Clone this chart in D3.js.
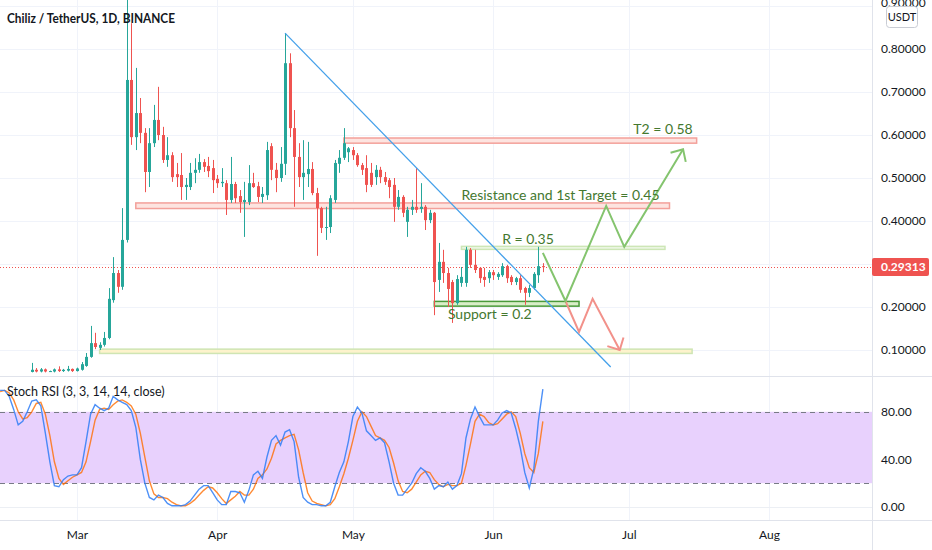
<!DOCTYPE html>
<html>
<head>
<meta charset="utf-8">
<script src="https://cdn.jsdelivr.net/npm/d3@7/dist/d3.min.js"></script>
<style>
  body { margin: 0; background: #fff; }
  svg { display: block; }
</style>
</head>
<body>
<div id="chart"></div>
<script>
// ---- data ----
var firstCandle = "2021-02-19";
var opens  = [0.049,0.054,0.050,0.055,0.050,0.050,0.055,0.051,0.052,0.056,
  0.051,0.054,0.063,0.084,0.116,0.105,0.112,0.128,0.216,0.279,0.247,0.356,0.728,0.595,0.651,0.605,0.514,0.581,0.635,0.600,0.542,0.553,0.509,0.507,0.479,0.479,0.512,0.519,0.537,0.528,0.523,
  0.498,0.488,0.488,0.449,0.486,0.458,0.444,0.444,0.488,0.481,0.456,0.460,0.574,0.519,0.500,0.533,0.767,0.616,0.549,0.502,0.509,0.521,0.465,0.430,0.384,0.386,0.449,0.533,0.547,0.560,
  0.565,0.553,0.530,0.523,0.512,0.502,0.519,0.502,0.495,0.484,0.433,0.456,0.398,0.426,0.433,0.428,0.433,0.402,0.419,0.263,0.305,0.279,0.258,0.209,0.256,0.256,0.333,0.298,0.291,0.270,0.267,
  0.281,0.270,0.274,0.295,0.270,0.258,0.267,0.244,0.233,0.244,0.274,0.295];
var highs  = [0.070,0.058,0.058,0.057,0.052,0.057,0.062,0.056,0.063,0.057,
  0.059,0.072,0.093,0.156,0.140,0.118,0.142,0.244,0.316,0.286,0.430,0.950,0.860,0.756,0.686,0.616,0.616,0.670,0.712,0.619,0.595,0.560,0.535,0.558,0.500,0.535,0.546,0.556,0.544,0.549,0.542,
  0.507,0.523,0.495,0.549,0.491,0.472,0.491,0.530,0.512,0.491,0.479,0.584,0.581,0.535,0.572,0.837,0.790,0.658,0.581,0.588,0.584,0.537,0.477,0.433,0.433,0.460,0.542,0.565,0.616,0.572,
  0.572,0.558,0.535,0.553,0.535,0.530,0.526,0.514,0.500,0.500,0.472,0.460,0.433,0.449,0.523,0.488,0.437,0.426,0.421,0.349,0.333,0.291,0.263,0.274,0.293,0.340,0.337,0.333,0.293,0.291,0.286,
  0.286,0.281,0.302,0.298,0.274,0.270,0.274,0.247,0.251,0.281,0.340,0.302];
var lows   = [0.048,0.048,0.048,0.048,0.049,0.048,0.049,0.049,0.050,0.049,
  0.050,0.052,0.061,0.082,0.102,0.100,0.108,0.125,0.210,0.233,0.240,0.350,0.577,0.565,0.581,0.467,0.479,0.572,0.588,0.535,0.526,0.491,0.479,0.449,0.449,0.472,0.488,0.512,0.514,0.502,0.465,
  0.477,0.479,0.414,0.442,0.442,0.419,0.363,0.437,0.477,0.444,0.442,0.449,0.495,0.467,0.491,0.507,0.595,0.433,0.479,0.449,0.479,0.460,0.319,0.372,0.356,0.372,0.442,0.512,0.542,0.537,
  0.542,0.526,0.507,0.467,0.479,0.484,0.488,0.484,0.453,0.398,0.426,0.409,0.363,0.414,0.419,0.419,0.379,0.395,0.181,0.235,0.256,0.200,0.163,0.205,0.247,0.247,0.291,0.279,0.256,0.247,0.256,
  0.263,0.263,0.270,0.256,0.251,0.251,0.233,0.205,0.223,0.240,0.256,0.281];
var closes = [0.054,0.050,0.055,0.050,0.051,0.055,0.051,0.054,0.056,0.051,
  0.057,0.067,0.084,0.116,0.107,0.112,0.128,0.219,0.279,0.247,0.356,0.728,0.595,0.651,0.605,0.514,0.581,0.635,0.600,0.542,0.553,0.502,0.502,0.479,0.484,0.512,0.519,0.537,0.526,0.516,0.495,
  0.488,0.491,0.449,0.486,0.453,0.444,0.449,0.488,0.479,0.456,0.463,0.565,0.519,0.500,0.533,0.767,0.616,0.549,0.502,0.512,0.521,0.465,0.430,0.384,0.386,0.453,0.535,0.547,0.581,0.569,
  0.553,0.530,0.519,0.484,0.484,0.519,0.502,0.491,0.479,0.433,0.456,0.419,0.426,0.433,0.426,0.433,0.402,0.419,0.258,0.305,0.279,0.242,0.209,0.265,0.270,0.333,0.298,0.286,0.267,0.263,0.281,
  0.274,0.277,0.295,0.267,0.258,0.267,0.240,0.233,0.244,0.277,0.295,0.29313];

var firstStoch = "2021-02-12";
var stochK = [98,98,93,82,69,72,80,89,90,85,62,38,18,17,23,26,27,
  27,33,55,78,86,83,81,83,93,90,88,86,81,67,40,20,8,6,10,8,3,1,1,1,2,5,10,15,18,18,12,
  6,2,2,13,13,12,4,14,27,30,24,42,56,60,52,63,65,55,25,8,4,2,2,1,1,4,17,29,38,55,
  76,84,79,64,60,56,58,54,38,20,10,10,15,20,28,33,30,24,15,18,17,21,15,18,28,58,74,84,76,69,69,
  69,73,79,81,79,66,50,29,16,32,72,99];
var stochD = [97,98,96,90,80,74,75,80,87,88,78,60,38,24,19,22,25,
  27,29,38,55,73,82,83,82,86,89,90,88,85,78,62,42,22,11,8,8,7,4,2,1,1,3,6,10,14,17,16,
  12,7,3,6,9,13,10,10,15,24,27,32,41,53,56,58,60,61,48,29,12,5,3,2,1,2,7,17,28,41,
  56,72,80,76,68,60,58,56,50,37,22,13,12,15,21,27,30,29,23,19,17,19,18,18,20,35,53,72,78,76,71,
  69,70,74,78,80,76,62,45,33,29,45,72];

var priceTicks = [0.1, 0.2, 0.3, 0.4, 0.5, 0.6, 0.7, 0.8, 0.9];
var priceLabelTicks = [0.1, 0.2, 0.4, 0.5, 0.6, 0.7, 0.8];
var stochTicks = [0, 40, 80];
var monthTicks = ["2021-03-01","2021-04-01","2021-05-01","2021-06-01","2021-07-01","2021-08-01"];
var lastPrice = 0.29313;

// drawings: [start date, end date, low price, high price]
var redBands   = [["2021-03-14","2021-07-10",0.429,0.442], ["2021-04-29","2021-07-16",0.581,0.593]];
var rBand      = ["2021-05-25","2021-07-09",0.334,0.341];
var supportBand= ["2021-05-19","2021-06-20",0.202,0.213];
var bottomBand = ["2021-03-06","2021-07-15",0.092,0.102];
var trendLine  = [["2021-04-16",0.837],["2021-06-27",0.0605]];
var upPath     = [["2021-06-12",0.326],["2021-06-17",0.214],["2021-06-26",0.435],["2021-06-30",0.340],["2021-07-13",0.567]];
var downPath   = [["2021-06-17",0.214],["2021-06-20",0.142],["2021-06-23",0.219],["2021-06-29",0.100]];
var notes = [
  ["T2 = 0.58", "2021-07-02", 0.602],
  ["Resistance and 1st Target = 0.45", "2021-05-25", 0.449],
  ["R = 0.35", "2021-06-03", 0.3465],
  ["Support = 0.2", "2021-05-22", 0.172]
];

// ---- layout ----
var width = 932, height = 550;
var plotRight = 872, mainBottom = 376, stochTop = 378, axisTop = 520;
var parse = d3.utcParse("%Y-%m-%d");

var svg = d3.select("#chart").append("svg")
  .attr("width", width).attr("height", height)
  .style("font-family", "Lato, 'Liberation Sans', sans-serif");

var x = d3.scaleUtc()
  .domain([parse("2021-03-01"), parse("2021-08-01")])
  .range([77, 769]);
var y = d3.scaleLinear().domain([0, 0.9]).range([393, 6]);
var ys = d3.scaleLinear().domain([0, 100]).range([507, 388]);

var candles = opens.map(function(o, i) {
  return {date: d3.utcDay.offset(parse(firstCandle), i), o: o, h: highs[i], l: lows[i], c: closes[i]};
});
var stoch = stochK.map(function(k, i) {
  return {date: d3.utcDay.offset(parse(firstStoch), i), k: k, d: stochD[i]};
});

var defs = svg.append("defs");
defs.append("clipPath").attr("id", "clipMain")
  .append("rect").attr("x", 0).attr("y", 0).attr("width", plotRight).attr("height", mainBottom);
defs.append("clipPath").attr("id", "clipStoch")
  .append("rect").attr("x", 0).attr("y", stochTop).attr("width", plotRight).attr("height", axisTop - stochTop);

// grid
var grid = svg.append("g");
grid.selectAll(".hg").data(priceTicks).enter().append("line")
  .attr("x1", 0).attr("x2", plotRight)
  .attr("y1", function(d) { return Math.round(y(d)) + 0.5; })
  .attr("y2", function(d) { return Math.round(y(d)) + 0.5; })
  .attr("stroke", "#f0f3fa");
grid.selectAll(".vg").data(monthTicks).enter().append("line")
  .attr("y1", 0).attr("y2", axisTop)
  .attr("x1", function(d) { return Math.round(x(parse(d))) + 0.5; })
  .attr("x2", function(d) { return Math.round(x(parse(d))) + 0.5; })
  .attr("stroke", "#f0f3fa");
grid.append("line").attr("x1", 0).attr("x2", plotRight)
  .attr("y1", Math.round(ys(0)) + 0.5).attr("y2", Math.round(ys(0)) + 0.5)
  .attr("stroke", "#eceff4");

// separators
svg.append("line").attr("x1", 0).attr("x2", width).attr("y1", mainBottom + 0.5).attr("y2", mainBottom + 0.5).attr("stroke", "#e0e3eb");
svg.append("line").attr("x1", 0).attr("x2", width).attr("y1", axisTop + 0.5).attr("y2", axisTop + 0.5).attr("stroke", "#e0e3eb");
svg.append("line").attr("x1", plotRight + 0.5).attr("x2", plotRight + 0.5).attr("y1", 0).attr("y2", height).attr("stroke", "#e0e3eb");

// ---- main pane ----
var main = svg.append("g").attr("clip-path", "url(#clipMain)");

function band(g, b, stroke, fill) {
  g.append("rect")
    .attr("x", x(parse(b[0])))
    .attr("y", y(b[3]))
    .attr("width", x(parse(b[1])) - x(parse(b[0])))
    .attr("height", y(b[2]) - y(b[3]))
    .attr("fill", fill).attr("stroke", stroke).attr("stroke-width", 1.5);
}
band(main, bottomBand, "#cfe5b3", "#fdf3cc");
redBands.forEach(function(b) { band(main, b, "#f3a09a", "#fde4e0"); });
band(main, rBand, "#cde6b6", "#eef7e6");
band(main, supportBand, "#4a9a3a", "#d9eec8");

// price line
main.append("line").attr("x1", 0).attr("x2", plotRight)
  .attr("y1", Math.round(y(lastPrice)) + 0.5).attr("y2", Math.round(y(lastPrice)) + 0.5)
  .attr("stroke", "#ef5350").attr("stroke-dasharray", "1,2");

// candles
var cg = main.selectAll(".candle").data(candles).enter().append("g");
cg.append("line")
  .attr("x1", function(d) { return Math.round(x(d.date)) + 0.5; })
  .attr("x2", function(d) { return Math.round(x(d.date)) + 0.5; })
  .attr("y1", function(d) { return y(d.h); })
  .attr("y2", function(d) { return y(d.l); })
  .attr("stroke", function(d) { return d.c >= d.o ? "#26a69a" : "#ef5350"; });
cg.append("rect")
  .attr("x", function(d) { return Math.round(x(d.date)) - 1; })
  .attr("width", 3)
  .attr("y", function(d) { return y(Math.max(d.o, d.c)); })
  .attr("height", function(d) { return Math.max(1, Math.abs(y(d.o) - y(d.c))); })
  .attr("fill", function(d) { return d.c >= d.o ? "#26a69a" : "#ef5350"; });

// trend line
main.append("line")
  .attr("x1", x(parse(trendLine[0][0]))).attr("y1", y(trendLine[0][1]))
  .attr("x2", x(parse(trendLine[1][0]))).attr("y2", y(trendLine[1][1]))
  .attr("stroke", "#44a0ea").attr("stroke-width", 1.3);

// projected paths with arrow heads
var pathLine = d3.line()
  .x(function(d) { return x(parse(d[0])); })
  .y(function(d) { return y(d[1]); });

function arrow(points, color, spread) {
  main.append("path").attr("d", pathLine(points))
    .attr("fill", "none").attr("stroke", color).attr("stroke-width", 2)
    .attr("stroke-linejoin", "miter");
  var a = points[points.length - 2], b = points[points.length - 1];
  var x1 = x(parse(a[0])), y1 = y(a[1]), x2 = x(parse(b[0])), y2 = y(b[1]);
  var back = Math.atan2(y2 - y1, x2 - x1) + Math.PI;
  var len = 13;
  var head = [
    [x2 + len * Math.cos(back - spread), y2 + len * Math.sin(back - spread)],
    [x2, y2],
    [x2 + len * Math.cos(back + spread), y2 + len * Math.sin(back + spread)]
  ];
  main.append("path").attr("d", d3.line()(head))
    .attr("fill", "none").attr("stroke", color).attr("stroke-width", 2);
}
arrow(downPath, "#f2918a", 0.78);
arrow(upPath, "#84c46e", 0.75);

// notes
main.selectAll(".note").data(notes).enter().append("text")
  .attr("x", function(d) { return x(parse(d[1])); })
  .attr("y", function(d) { return y(d[2]); })
  .attr("fill", "#44782f")
  .style("font-size", "14px")
  .text(function(d) { return d[0]; });

// title
svg.append("text").attr("x", 7).attr("y", 23)
  .attr("fill", "#131722").style("font-size", "13px").style("font-weight", "bold")
  .attr("textLength", 168).attr("lengthAdjust", "spacingAndGlyphs")
  .text("Chiliz / TetherUS, 1D, BINANCE");

// price axis
var yAxis = d3.axisRight(y).tickValues(priceLabelTicks).tickFormat(d3.format(".5f")).tickSize(0).tickPadding(9);
svg.append("g").attr("transform", "translate(" + plotRight + ",0)")
  .call(yAxis)
  .call(function(g) {
    g.select(".domain").remove();
    g.selectAll("text").attr("fill", "#131722").style("font-size", "12px").style("font-family", "Lato, sans-serif");
  });

// top price label, half hidden under the currency box as in the source
svg.append("text").attr("x", 881).attr("y", 7)
  .attr("fill", "#131722").style("font-size", "12px").style("font-family", "Lato, sans-serif")
  .text(d3.format(".5f")(0.9));

// last price label
svg.append("rect").attr("x", plotRight).attr("y", y(lastPrice) - 9).attr("width", 57).attr("height", 18)
  .attr("rx", 2).attr("fill", "#ef5350");
svg.append("text").attr("x", plotRight + 9).attr("y", y(lastPrice) + 4.5)
  .attr("fill", "#fff").style("font-size", "12px").style("font-weight", "bold")
  .text(d3.format(".5f")(lastPrice));

// currency box
svg.append("rect").attr("x", 886.5).attr("y", 6.5).attr("width", 31).attr("height", 21)
  .attr("rx", 3).attr("fill", "#fff").attr("stroke", "#c9ccd4");
svg.append("text").attr("x", 902).attr("y", 21).attr("text-anchor", "middle")
  .attr("fill", "#131722").style("font-size", "11px").text("USDT");

// ---- stoch pane ----
var sp = svg.append("g").attr("clip-path", "url(#clipStoch)");
sp.append("rect").attr("x", 0).attr("width", plotRight)
  .attr("y", ys(80)).attr("height", ys(20) - ys(80))
  .attr("fill", "#e8d1fd");
[80, 20].forEach(function(v) {
  sp.append("line").attr("x1", 0).attr("x2", plotRight)
    .attr("y1", Math.round(ys(v)) + 0.5).attr("y2", Math.round(ys(v)) + 0.5)
    .attr("stroke", "#787b86").attr("stroke-dasharray", "5,4");
});
sp.append("path").datum(stoch)
  .attr("d", d3.line().x(function(d) { return x(d.date); }).y(function(d) { return ys(d.d); }))
  .attr("fill", "none").attr("stroke", "#ff6d00").attr("stroke-opacity", 0.8).attr("stroke-width", 1.4);
sp.append("path").datum(stoch)
  .attr("d", d3.line().x(function(d) { return x(d.date); }).y(function(d) { return ys(d.k); }))
  .attr("fill", "none").attr("stroke", "#2e7cf6").attr("stroke-opacity", 0.85).attr("stroke-width", 1.4);

svg.append("text").attr("x", 7).attr("y", 396)
  .attr("fill", "#131722").style("font-size", "12.5px")
  .text("Stoch RSI (3, 3, 14, 14, close)");

var sAxis = d3.axisRight(ys).tickValues(stochTicks).tickFormat(d3.format(".2f")).tickSize(0).tickPadding(9);
svg.append("g").attr("transform", "translate(" + plotRight + ",0)")
  .call(sAxis)
  .call(function(g) {
    g.select(".domain").remove();
    g.selectAll("text").attr("fill", "#131722").style("font-size", "12px").style("font-family", "Lato, sans-serif");
  });

// time axis
var xAxis = d3.axisBottom(x).tickValues(monthTicks.map(parse)).tickFormat(d3.utcFormat("%b")).tickSize(0).tickPadding(10);
svg.append("g").attr("transform", "translate(0," + axisTop + ")")
  .call(xAxis)
  .call(function(g) {
    g.select(".domain").remove();
    g.selectAll("text").attr("fill", "#131722").style("font-size", "12px").style("font-family", "Lato, sans-serif");
  });
</script>
</body>
</html>
